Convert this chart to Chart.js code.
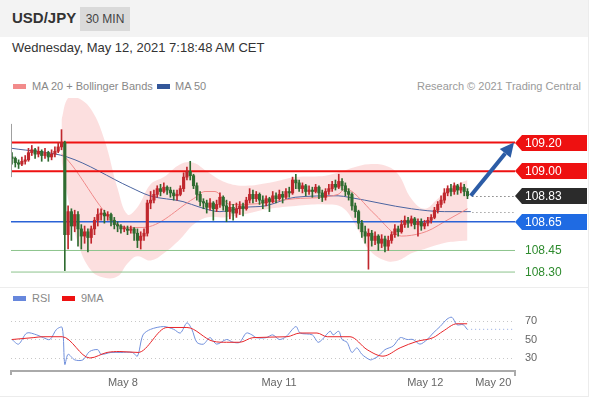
<!DOCTYPE html>
<html>
<head>
<meta charset="utf-8">
<script src="https://cdn.jsdelivr.net/npm/chart.js@4.4.1/dist/chart.umd.min.js"></script>
<style>
html, body { margin: 0; padding: 0; background: #fff; }
body { width: 590px; height: 400px; position: relative; overflow: hidden; font-family: "Liberation Sans", Arial, sans-serif; }
#frame { position: absolute; left: 0; top: 0; width: 588px; height: 396px; border-right: 1px solid #ececec; border-bottom: 1px solid #ececec; }
#head { position: absolute; left: 0; top: 0; width: 588px; height: 37px; background: #f3f3f3; }
#pair { position: absolute; left: 12px; top: 9px; font-size: 15px; line-height: 18px; font-weight: bold; color: #333; }
#tf { position: absolute; left: 80px; top: 7px; width: 50px; height: 24px; line-height: 24px; text-align: center; background: #dadada; font-size: 12px; color: #444; }
#date { position: absolute; left: 12px; top: 40px; font-size: 13px; line-height: 16px; color: #333; }
.leg { position: absolute; font-size: 11px; line-height: 13px; color: #888; }
.sw { position: absolute; width: 13px; height: 5px; }
#sep { position: absolute; left: 0; top: 287px; width: 588px; height: 1px; background: #ededed; }
canvas { position: absolute; left: 0; }
#price { top: 98px; }
#rsi { top: 304px; }
</style>
</head>
<body>
<div id="frame"></div>
<div id="head"><div id="pair">USD/JPY</div><div id="tf">30 MIN</div></div>
<div id="date">Wednesday, May 12, 2021 7:18:48 AM CET</div>

<div class="sw" style="left:13px;top:84px;background:#f28b8b"></div>
<div class="leg" style="left:32px;top:80px">MA 20 + Bollinger Bands</div>
<div class="sw" style="left:157px;top:84px;background:#33579a"></div>
<div class="leg" style="left:175px;top:80px">MA 50</div>
<div class="leg" style="right:9px;top:80px;color:#9a9a9a">Research © 2021 Trading Central</div>

<div id="sep"></div>

<div class="sw" style="left:13px;top:296px;background:#6787dc"></div>
<div class="leg" style="left:32px;top:292px">RSI</div>
<div class="sw" style="left:62px;top:296px;background:#ee1111"></div>
<div class="leg" style="left:81px;top:292px">9MA</div>

<canvas id="price" width="590" height="190"></canvas>
<canvas id="rsi" width="590" height="96"></canvas>

<script>
// ---- data (30 min candles, index 0 = first bar) ----
const firstOpen = 109.10;
const closes = [
  109.09, 109.06, 109.05, 109.07, 109.08, 109.13, 109.15, 109.12, 109.14, 109.11, 109.13, 109.10, 109.12, 109.14, 109.17, 109.20,
  108.56,
  108.72, 108.62, 108.70, 108.60, 108.55, 108.58, 108.54, 108.60, 108.66, 108.70, 108.71, 108.69, 108.70, 108.66, 108.63, 108.62,
  108.60, 108.60, 108.59, 108.60, 108.57, 108.52, 108.55, 108.57,
  108.78, 108.80, 108.84, 108.88, 108.86, 108.89, 108.87, 108.85, 108.83, 108.84, 108.88, 108.96, 109.00, 108.97, 108.90, 108.84, 108.79, 108.78,
  108.75, 108.78, 108.74, 108.77, 108.82, 108.76, 108.72, 108.75, 108.71, 108.74, 108.76, 108.74, 108.80, 108.84,
  108.81, 108.84, 108.80, 108.78, 108.81, 108.79, 108.83, 108.81, 108.84, 108.82, 108.86, 108.85, 108.94, 108.92, 108.88, 108.90,
  108.86, 108.87, 108.86, 108.89, 108.85, 108.82, 108.86, 108.88, 108.91, 108.89, 108.93, 108.90, 108.86, 108.84,
  108.76, 108.72, 108.64, 108.58, 108.55, 108.57, 108.52, 108.55, 108.50, 108.53, 108.48, 108.52, 108.56, 108.60, 108.58, 108.63,
  108.66, 108.64, 108.67, 108.63, 108.65, 108.62, 108.64, 108.66, 108.68, 108.73, 108.77, 108.80, 108.85, 108.88, 108.86, 108.90,
  108.87, 108.89, 108.86, 108.83
];
const highs = [
  109.13, 109.10, 109.08, 109.10, 109.11, 109.16, 109.18, 109.16, 109.17, 109.15, 109.16, 109.14, 109.15, 109.17, 109.20, 109.29,
  109.21,
  108.76, 108.74, 108.73, 108.72, 108.63, 108.62, 108.60, 108.62, 108.68, 108.74, 108.74, 108.73, 108.72, 108.71, 108.68, 108.65,
  108.63, 108.62, 108.62, 108.62, 108.61, 108.60, 108.58, 108.60,
  108.80, 108.86, 108.87, 108.90, 108.91, 108.92, 108.90, 108.89, 108.87, 108.87, 108.90, 108.99, 109.03, 109.07, 108.98, 108.92, 108.86, 108.81,
  108.80, 108.81, 108.79, 108.80, 108.85, 108.83, 108.80, 108.79, 108.77, 108.78, 108.79, 108.78, 108.82, 108.88,
  108.87, 108.86, 108.85, 108.83, 108.83, 108.82, 108.86, 108.85, 108.87, 108.86, 108.88, 108.89, 108.96, 108.98, 108.94, 108.92,
  108.91, 108.90, 108.89, 108.91, 108.90, 108.87, 108.88, 108.91, 108.93, 108.94, 108.98, 108.95, 108.92, 108.88,
  108.85, 108.78, 108.73, 108.66, 108.62, 108.60, 108.59, 108.58, 108.56, 108.56, 108.55, 108.55, 108.58, 108.63, 108.62, 108.66,
  108.69, 108.68, 108.69, 108.68, 108.67, 108.67, 108.66, 108.68, 108.70, 108.75, 108.79, 108.83, 108.88, 108.90, 108.91, 108.92,
  108.91, 108.92, 108.91, 108.88
];
const lows = [
  109.05, 109.03, 109.02, 109.04, 109.05, 109.07, 109.11, 109.09, 109.10, 109.07, 109.09, 109.07, 109.08, 109.10, 109.13, 109.15,
  108.31,
  108.46, 108.52, 108.58, 108.48, 108.46, 108.50, 108.44, 108.50, 108.56, 108.62, 108.66, 108.64, 108.66, 108.62, 108.60, 108.58,
  108.57, 108.58, 108.56, 108.57, 108.52, 108.47, 108.46, 108.52,
  108.55, 108.74, 108.78, 108.82, 108.83, 108.85, 108.84, 108.82, 108.80, 108.80, 108.83, 108.86, 108.94, 108.94, 108.88, 108.80, 108.76, 108.74,
  108.71, 108.73, 108.66, 108.72, 108.75, 108.73, 108.65, 108.67, 108.66, 108.68, 108.70, 108.69, 108.73, 108.78,
  108.78, 108.79, 108.77, 108.74, 108.76, 108.72, 108.78, 108.78, 108.80, 108.78, 108.81, 108.82, 108.84, 108.88, 108.86, 108.85,
  108.83, 108.84, 108.82, 108.85, 108.81, 108.79, 108.80, 108.84, 108.86, 108.87, 108.88, 108.87, 108.83, 108.80,
  108.73, 108.68, 108.60, 108.54, 108.50, 108.32, 108.48, 108.49, 108.45, 108.47, 108.44, 108.45, 108.50, 108.54, 108.55, 108.57,
  108.61, 108.61, 108.62, 108.60, 108.55, 108.59, 108.60, 108.62, 108.64, 108.67, 108.71, 108.75, 108.78, 108.83, 108.83, 108.84,
  108.84, 108.85, 108.83, 108.81
];

// moving averages and bands, read at bar indices
const ma20Idx = [15, 16, 34.8, 39.7, 55, 58.5, 61.5, 66, 70.6, 85.8, 98.8, 101, 103, 110, 118, 124, 127.3, 131, 138];
const ma20Vals = [109.12, 109.10, 108.61, 108.61, 108.81, 108.86, 108.86, 108.77, 108.77, 108.81, 108.84, 108.88, 108.86, 108.70, 108.55, 108.57, 108.60, 108.65, 108.74];
const ma50Idx = [0, 16.7, 35.8, 41.8, 51.8, 57, 63, 70.6, 76.7, 85.8, 98.8, 102, 121, 131, 139];
const ma50Vals = [109.16, 109.10, 108.89, 108.83, 108.79, 108.75, 108.72, 108.75, 108.76, 108.82, 108.83, 108.82, 108.74, 108.72, 108.72];
const bbIdx = [15, 17, 20, 24, 28, 32, 35, 38, 42, 46, 51, 55, 59, 64, 70, 78, 86, 95, 100, 104, 108, 113, 117, 121, 125, 129, 133, 138];
const bbUpper = [109.36, 109.51, 109.51, 109.43, 109.22, 108.88, 108.70, 108.75, 108.91, 108.96, 109.05, 109.06, 109.00, 108.93, 108.90, 108.92, 108.96, 108.97, 109.00, 109.03, 109.05, 109.04, 108.98, 108.81, 108.74, 108.81, 108.89, 108.94];
const bbLower = [109.08, 108.81, 108.50, 108.31, 108.26, 108.27, 108.36, 108.41, 108.38, 108.43, 108.53, 108.63, 108.68, 108.68, 108.70, 108.74, 108.76, 108.77, 108.75, 108.63, 108.46, 108.38, 108.38, 108.43, 108.46, 108.49, 108.51, 108.52];

// support / resistance levels
const resistLevels = [109.20, 109.00];
const pivotLevel = 108.65;
const supportLevels = [108.45, 108.30];
const targetLevel = 109.20;

// RSI panel
const rsiIdx = [0, 2, 4.5, 7.5, 9.5, 11.5, 13.5, 15.2, 16, 17, 19, 21.5, 23.5, 26, 27, 30, 33, 36.5, 38, 39.7,
  42, 46, 49, 51, 53, 54.5, 56, 58, 60, 62, 65, 67, 69, 71, 72.7, 74, 77, 79, 81, 83,
  86, 87.3, 91, 92.7, 94, 96.4, 97.3, 99, 100, 101.5, 103, 104.5, 106, 108.5, 109.5, 111, 113, 115.5, 117.6, 119.7,
  121.5, 123.6, 125.8, 127.6, 129.7, 131.8, 133.3, 134.8, 136.7, 137.9];
const rsiVals = [50, 45, 57, 55, 52, 50, 61, 63, 23, 34, 28, 28, 37, 39, 34, 36, 36, 36, 32, 55,
  61, 64, 61, 57, 68, 61, 47, 45, 52, 45, 50, 47, 47, 57, 55, 52, 52, 55, 50, 53,
  64, 57, 55, 47, 50, 59, 55, 59, 50, 47, 36, 41, 34, 28, 29, 32, 39, 43, 52, 50,
  50, 45, 50, 57, 64, 72, 74, 66, 66, 61];
const ma9Idx = [0, 6.4, 9.4, 15.2, 23.6, 28.8, 32.7, 38.2, 47, 53, 61, 65, 69, 73, 83.3, 87.3, 92.4, 95.5, 102.4, 107.6, 112.4, 117.6, 122.7, 127.6, 130.6, 134.8, 137.9];
const ma9Vals = [50, 52, 53, 53, 30, 36, 37, 36, 63, 63, 48, 47, 47, 52, 53, 57, 57, 53, 53, 39, 32, 41, 48, 52, 59, 67, 67];
const rsiTicks = [30, 50, 70];

// x axis dates
const dateTickIdx = [33.6, 80.9, 125.2, 145.8];
const dateLabels = ["May 8", "May 11", "May 12", "May 20"];

// ---- styles ----
const UP = "#c0272d";
const DOWN = "#2f6b30";
const RED = "#ee1111";
const BLUE_LEVEL = "#2a62d6";
const GREEN_LEVEL = "#8cc48c";
const X_MIN = -0.3, X_MAX = 152.4;

const opens = closes.map((c, i) => (i === 0 ? firstOpen : closes[i - 1]));
const candleColor = (i) => (closes[i] >= opens[i] ? UP : DOWN);
const pts = (idx, vals) => idx.map((x, i) => ({ x, y: vals[i] }));
const flat = (v) => [{ x: X_MIN, y: v }, { x: X_MAX, y: v }];
const FONT = '"Liberation Sans", Arial, sans-serif';

const lastIdx = closes.length - 1;
const lastClose = closes[lastIdx];
const lastMa50 = ma50Vals[ma50Vals.length - 1];

const overlayPlugin = {
    id: "overlay",
    afterDraw(chart) {
        const { ctx, chartArea } = chart;
        const xs = chart.scales.x, ys = chart.scales.y;
        const right = chartArea.right;
        ctx.save();

        // small marker at start of data
        ctx.strokeStyle = "#a0a0a0";
        ctx.lineWidth = 1;
        ctx.beginPath();
        ctx.moveTo(chartArea.left + 0.5, ys.getPixelForValue(109.33));
        ctx.lineTo(chartArea.left + 0.5, ys.getPixelForValue(108.96));
        ctx.stroke();

        // dotted guides from last bar
        const gx = xs.getPixelForValue(lastIdx + 1.5);
        ctx.setLineDash([1, 3]);
        ctx.strokeStyle = "#444";
        ctx.beginPath();
        ctx.moveTo(gx, Math.round(ys.getPixelForValue(lastClose)) + 0.5);
        ctx.lineTo(right, Math.round(ys.getPixelForValue(lastClose)) + 0.5);
        ctx.stroke();
        ctx.strokeStyle = "#777";
        ctx.beginPath();
        ctx.moveTo(gx, Math.round(ys.getPixelForValue(lastMa50)) + 0.5);
        ctx.lineTo(right, Math.round(ys.getPixelForValue(lastMa50)) + 0.5);
        ctx.stroke();
        ctx.setLineDash([]);

        // forecast arrow
        const x0 = xs.getPixelForValue(lastIdx + 1), y0 = ys.getPixelForValue(lastClose);
        const x1 = xs.getPixelForValue(X_MAX - 0.3), y1 = ys.getPixelForValue(targetLevel);
        const ang = Math.atan2(y1 - y0, x1 - x0);
        const head = 14;
        const bx = x1 - Math.cos(ang) * head, by = y1 - Math.sin(ang) * head;
        ctx.strokeStyle = "#2c5ca6";
        ctx.fillStyle = "#2c5ca6";
        ctx.lineWidth = 4;
        ctx.beginPath();
        ctx.moveTo(x0, y0);
        ctx.lineTo(bx, by);
        ctx.stroke();
        ctx.beginPath();
        ctx.moveTo(x1, y1);
        ctx.lineTo(bx + Math.sin(ang) * 7, by - Math.cos(ang) * 7);
        ctx.lineTo(bx - Math.sin(ang) * 7, by + Math.cos(ang) * 7);
        ctx.closePath();
        ctx.fill();

        // price tags on the right
        const tag = (v, color) => {
            const y = Math.round(ys.getPixelForValue(v));
            ctx.fillStyle = color;
            ctx.beginPath();
            ctx.moveTo(right, y);
            ctx.lineTo(right + 7, y - 8);
            ctx.lineTo(right + 72, y - 8);
            ctx.lineTo(right + 72, y + 8);
            ctx.lineTo(right + 7, y + 8);
            ctx.closePath();
            ctx.fill();
            ctx.fillStyle = "#fff";
            ctx.font = "12px " + FONT;
            ctx.textBaseline = "middle";
            ctx.textAlign = "left";
            ctx.fillText(v.toFixed(2), right + 10, y + 1);
        };
        resistLevels.forEach((v) => tag(v, RED));
        tag(lastClose, "#2b2b2b");
        tag(pivotLevel, "#1f6be3");
        ctx.fillStyle = "#2e8b2e";
        ctx.font = "12px " + FONT;
        ctx.textBaseline = "middle";
        supportLevels.forEach((v) => ctx.fillText(v.toFixed(2), right + 10, Math.round(ys.getPixelForValue(v)) + 1));
        ctx.restore();
    },
};

const lineDs = (data, color, width, order, extra) => Object.assign({
    type: "line", data, borderColor: color, borderWidth: width, pointRadius: 0, fill: false, order,
}, extra || {});

new Chart(document.getElementById("price"), {
    type: "bar",
    data: {
        datasets: [
            {
                label: "body",
                data: closes.map((c, i) => ({ x: i, y: [opens[i], c] })),
                backgroundColor: (ctx) => candleColor(ctx.dataIndex),
                barThickness: 2.5, minBarLength: 1, grouped: false, order: 0,
            },
            {
                label: "wick",
                data: closes.map((c, i) => ({ x: i, y: [lows[i], highs[i]] })),
                backgroundColor: (ctx) => candleColor(ctx.dataIndex),
                barThickness: 1, grouped: false, order: 1,
            },
            lineDs(flat(resistLevels[0]), RED, 2, 2),
            lineDs(flat(resistLevels[1]), RED, 2, 2),
            lineDs(flat(pivotLevel), BLUE_LEVEL, 1.5, 2),
            lineDs(flat(supportLevels[0]), GREEN_LEVEL, 1, 2),
            lineDs(flat(supportLevels[1]), GREEN_LEVEL, 1, 2),
            lineDs(pts(ma20Idx, ma20Vals), "#f08a8a", 1, 3, { cubicInterpolationMode: "monotone" }),
            lineDs(pts(ma50Idx, ma50Vals), "#4a64a0", 1, 3, { cubicInterpolationMode: "monotone" }),
            lineDs(pts(bbIdx, bbUpper), "rgba(0,0,0,0)", 0, 4, { fill: "+1", backgroundColor: "rgba(244,150,150,0.3)", tension: 0.4 }),
            lineDs(pts(bbIdx, bbLower), "rgba(0,0,0,0)", 0, 5, { tension: 0.4 }),
        ],
    },
    options: {
        responsive: false,
        animation: false,
        layout: { padding: { left: 11, right: 75, top: 0, bottom: 3 } },
        plugins: { legend: { display: false }, tooltip: { enabled: false } },
        scales: {
            x: { type: "linear", min: X_MIN, max: X_MAX, offset: false, display: false },
            y: { type: "linear", min: 108.21, max: 109.51, display: false },
        },
    },
    plugins: [overlayPlugin],
});

const rsiPlugin = {
    id: "rsiCaps",
    afterDraw(chart) {
        const { ctx, chartArea } = chart;
        ctx.save();
        ctx.strokeStyle = "#aaa";
        ctx.lineWidth = 2;
        ctx.beginPath();
        ctx.moveTo(chartArea.left, chartArea.bottom);
        ctx.lineTo(chartArea.left, chartArea.bottom + 4);
        ctx.moveTo(chartArea.right, chartArea.bottom);
        ctx.lineTo(chartArea.right, chartArea.bottom + 5);
        ctx.stroke();
        ctx.restore();
    },
};

new Chart(document.getElementById("rsi"), {
    type: "line",
    data: {
        datasets: [
            lineDs(pts(ma9Idx, ma9Vals), "#e8262a", 1, 0, { cubicInterpolationMode: "monotone" }),
            lineDs(pts(rsiIdx, rsiVals), "#7190dc", 1, 1, { tension: 0.3 }),
            lineDs([{ x: rsiIdx[rsiIdx.length - 1], y: rsiVals[rsiVals.length - 1] }, { x: X_MAX, y: rsiVals[rsiVals.length - 1] }],
                "#8ea6e0", 1, 2, { borderDash: [1, 3] }),
        ],
    },
    options: {
        responsive: false,
        animation: false,
        layout: { padding: { left: 11, right: 0, top: 8, bottom: 0 } },
        plugins: { legend: { display: false }, tooltip: { enabled: false } },
        scales: {
            x: {
                type: "linear", min: X_MIN, max: X_MAX, offset: false,
                afterBuildTicks: (axis) => { axis.ticks = dateTickIdx.map((v) => ({ value: v })); },
                afterFit: (axis) => { axis.height = 29; },
                ticks: {
                    callback: (v, i) => dateLabels[i], autoSkip: false, maxRotation: 0,
                    color: "#666", font: { size: 11, family: FONT }, padding: 5,
                },
                grid: { display: false, drawTicks: false },
                border: { display: true, color: "#aaa", width: 2 },
            },
            y: {
                type: "linear", position: "right", min: 15.95, max: 79.73,
                afterBuildTicks: (axis) => { axis.ticks = rsiTicks.map((v) => ({ value: v })); },
                afterFit: (axis) => { axis.width = 75; },
                ticks: { color: "#666", font: { size: 11, family: FONT }, padding: 0 },
                grid: { color: "#c8c8c8", drawTicks: true, tickLength: 10, tickColor: "rgba(0,0,0,0)" },
                border: { display: false, dash: [1, 3] },
            },
        },
    },
    plugins: [rsiPlugin],
});
</script>
</body>
</html>
